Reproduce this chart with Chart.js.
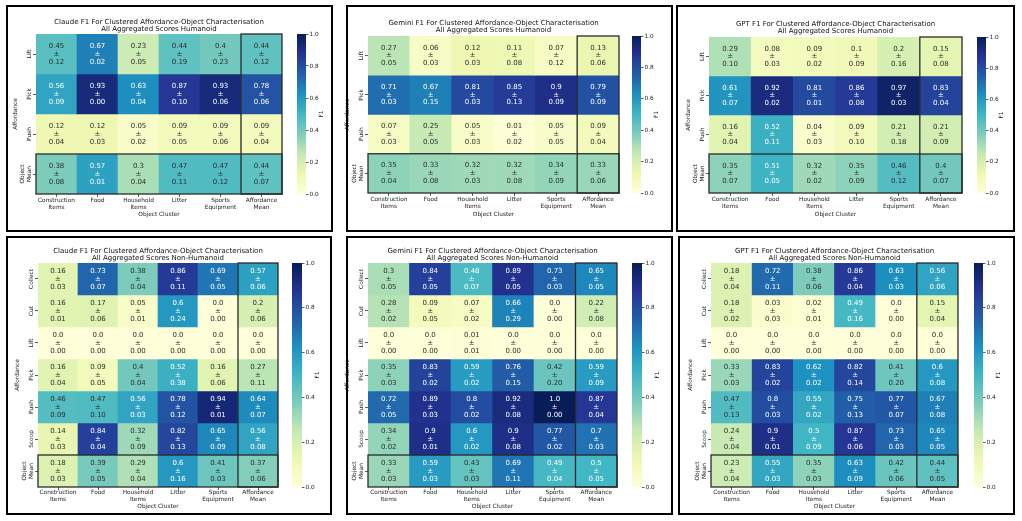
<!DOCTYPE html>
<html>
<head>
<meta charset="utf-8">
<title>F1 For Clustered Affordance-Object Characterisation</title>
<script src="https://cdn.jsdelivr.net/npm/chart.js@4.4.1/dist/chart.umd.min.js"></script>
<style>
  html, body { margin: 0; padding: 0; background: #fff; }
  #page { position: relative; width: 1022px; height: 521px; overflow: hidden; }
  #page canvas { position: absolute; }
  .frame { position: absolute; border: 2px solid #000; box-sizing: border-box; pointer-events: none; z-index: 2; }
</style>
</head>
<body>
<div id="page"></div>
<script>
// axis categories
var clusters = [['Construction', 'Items'], ['Food'], ['Household', 'Items'], ['Litter'], ['Sports', 'Equipment'], ['Affordance', 'Mean']];
var humanoidRows = [['Lift'], ['Pick'], ['Push'], ['Object', 'Mean']];
var nonHumanoidRows = [['Collect'], ['Cut'], ['Lift'], ['Pick'], ['Push'], ['Scoop'], ['Object', 'Mean']];
var cbTicks = [0, 0.2, 0.4, 0.6, 0.8, 1.0];

// Humanoid (rows: Lift, Pick, Push, Object Mean)
var claudeHumMean = [
    [0.45, 0.67, 0.23, 0.44, 0.4, 0.44],
    [0.56, 0.93, 0.63, 0.87, 0.93, 0.78],
    [0.12, 0.12, 0.05, 0.09, 0.09, 0.09],
    [0.38, 0.57, 0.3, 0.47, 0.47, 0.44]
];
var claudeHumStd = [
    [0.12, 0.02, 0.05, 0.19, 0.23, 0.12],
    [0.09, 0.00, 0.04, 0.10, 0.06, 0.06],
    [0.04, 0.03, 0.02, 0.05, 0.06, 0.04],
    [0.08, 0.01, 0.04, 0.11, 0.12, 0.07]
];
var geminiHumMean = [
    [0.27, 0.06, 0.12, 0.11, 0.07, 0.13],
    [0.71, 0.67, 0.81, 0.85, 0.9, 0.79],
    [0.07, 0.25, 0.05, 0.01, 0.05, 0.09],
    [0.35, 0.33, 0.32, 0.32, 0.34, 0.33]
];
var geminiHumStd = [
    [0.05, 0.03, 0.03, 0.08, 0.12, 0.06],
    [0.03, 0.15, 0.03, 0.13, 0.09, 0.09],
    [0.03, 0.05, 0.03, 0.02, 0.05, 0.04],
    [0.04, 0.08, 0.03, 0.08, 0.09, 0.06]
];
var gptHumMean = [
    [0.29, 0.08, 0.09, 0.1, 0.2, 0.15],
    [0.61, 0.92, 0.81, 0.86, 0.97, 0.83],
    [0.16, 0.52, 0.04, 0.09, 0.21, 0.21],
    [0.35, 0.51, 0.32, 0.35, 0.46, 0.4]
];
var gptHumStd = [
    [0.10, 0.03, 0.02, 0.09, 0.16, 0.08],
    [0.07, 0.02, 0.01, 0.08, 0.03, 0.04],
    [0.04, 0.11, 0.03, 0.10, 0.18, 0.09],
    [0.07, 0.05, 0.02, 0.09, 0.12, 0.07]
];

// Non-humanoid (rows: Collect, Cut, Lift, Pick, Push, Scoop, Object Mean)
var claudeNonMean = [
    [0.16, 0.73, 0.38, 0.86, 0.69, 0.57],
    [0.16, 0.17, 0.05, 0.6, 0.0, 0.2],
    [0.0, 0.0, 0.0, 0.0, 0.0, 0.0],
    [0.16, 0.09, 0.4, 0.52, 0.16, 0.27],
    [0.46, 0.47, 0.56, 0.78, 0.94, 0.64],
    [0.14, 0.84, 0.32, 0.82, 0.65, 0.56],
    [0.18, 0.39, 0.29, 0.6, 0.41, 0.37]
];
var claudeNonStd = [
    [0.03, 0.07, 0.04, 0.11, 0.05, 0.06],
    [0.01, 0.06, 0.01, 0.24, 0.00, 0.06],
    [0.00, 0.00, 0.00, 0.00, 0.00, 0.00],
    [0.04, 0.05, 0.04, 0.38, 0.06, 0.11],
    [0.09, 0.10, 0.03, 0.12, 0.01, 0.07],
    [0.03, 0.04, 0.09, 0.13, 0.09, 0.08],
    [0.03, 0.05, 0.04, 0.16, 0.03, 0.06]
];
var geminiNonMean = [
    [0.3, 0.84, 0.48, 0.89, 0.73, 0.65],
    [0.28, 0.09, 0.07, 0.66, 0.0, 0.22],
    [0.0, 0.0, 0.01, 0.0, 0.0, 0.0],
    [0.35, 0.83, 0.59, 0.76, 0.42, 0.59],
    [0.72, 0.89, 0.8, 0.92, 1.0, 0.87],
    [0.34, 0.9, 0.6, 0.9, 0.77, 0.7],
    [0.33, 0.59, 0.43, 0.69, 0.49, 0.5]
];
var geminiNonStd = [
    [0.05, 0.05, 0.07, 0.05, 0.03, 0.05],
    [0.02, 0.05, 0.02, 0.29, 0.00, 0.08],
    [0.00, 0.00, 0.01, 0.00, 0.00, 0.00],
    [0.03, 0.02, 0.02, 0.15, 0.20, 0.09],
    [0.05, 0.03, 0.02, 0.08, 0.00, 0.04],
    [0.02, 0.01, 0.02, 0.08, 0.02, 0.03],
    [0.03, 0.03, 0.03, 0.11, 0.04, 0.05]
];
var gptNonMean = [
    [0.18, 0.72, 0.38, 0.86, 0.63, 0.56],
    [0.18, 0.03, 0.02, 0.49, 0.0, 0.15],
    [0.0, 0.0, 0.0, 0.0, 0.0, 0.0],
    [0.33, 0.83, 0.62, 0.82, 0.41, 0.6],
    [0.47, 0.8, 0.55, 0.75, 0.77, 0.67],
    [0.24, 0.9, 0.5, 0.87, 0.73, 0.65],
    [0.23, 0.55, 0.35, 0.63, 0.42, 0.44]
];
var gptNonStd = [
    [0.04, 0.11, 0.06, 0.04, 0.03, 0.06],
    [0.02, 0.03, 0.01, 0.16, 0.00, 0.04],
    [0.00, 0.00, 0.00, 0.00, 0.00, 0.00],
    [0.03, 0.02, 0.02, 0.14, 0.20, 0.08],
    [0.13, 0.03, 0.02, 0.13, 0.07, 0.08],
    [0.04, 0.01, 0.09, 0.06, 0.03, 0.05],
    [0.04, 0.03, 0.03, 0.09, 0.06, 0.05]
];

var FAMILY = '"DejaVu Sans", sans-serif';
var smallFont = { family: FAMILY, size: 5.8, lineHeight: 1.2 };
var ylgnbu = ['#ffffd9', '#edf8b1', '#c7e9b4', '#7fcdbb', '#41b6c4', '#1d91c0', '#225ea8', '#253494', '#081d58'];

function hexToRgb(h) {
    return [parseInt(h.substr(1, 2), 16), parseInt(h.substr(3, 2), 16), parseInt(h.substr(5, 2), 16)];
}

function cmap(v) {
    v = Math.max(0, Math.min(1, v));
    var p = v * 8, i = Math.min(7, Math.floor(p)), f = p - i;
    var a = hexToRgb(ylgnbu[i]), b = hexToRgb(ylgnbu[i + 1]);
    return [0, 1, 2].map(function (k) { return Math.round(a[k] + (b[k] - a[k]) * f); });
}

function rgbStr(c) { return 'rgb(' + c.join(',') + ')'; }

// same rule seaborn uses to pick annotation colour
function textColor(c) {
    var lin = c.map(function (x) {
        x /= 255;
        return x <= 0.03928 ? x / 12.92 : Math.pow((x + 0.055) / 1.055, 2.4);
    });
    var lum = 0.2126 * lin[0] + 0.7152 * lin[1] + 0.0722 * lin[2];
    return lum > 0.408 ? '#2e2e2e' : '#ffffff';
}

function fmtMean(v) {
    var s = String(v);
    return s.indexOf('.') < 0 ? s + '.0' : s;
}

var page = document.getElementById('page');

function addCanvas(left, top, w, h) {
    var cv = document.createElement('canvas');
    cv.width = w;
    cv.height = h;
    cv.style.left = left + 'px';
    cv.style.top = top + 'px';
    page.appendChild(cv);
    return cv;
}

function addFrame(b) {
    var d = document.createElement('div');
    d.className = 'frame';
    d.style.left = b[0] + 'px';
    d.style.top = b[1] + 'px';
    d.style.width = (b[2] - b[0]) + 'px';
    d.style.height = (b[3] - b[1]) + 'px';
    page.appendChild(d);
}

// boxes round the "Affordance Mean" column and the "Object Mean" row
var meanBoxes = {
    id: 'meanBoxes',
    afterDatasetsDraw: function (chart) {
        var a = chart.chartArea, ctx = chart.ctx, ys = chart.scales.y;
        var meta = chart.getDatasetMeta(0);
        var last = meta.data[meta.data.length - 1];
        var n = chart.data.datasets.length;
        var y0 = ys.getPixelForValue(n - 1), y1 = ys.getPixelForValue(n);
        ctx.save();
        ctx.strokeStyle = '#2a2a2a';
        ctx.lineWidth = 1.3;
        ctx.strokeRect(last.x - last.width / 2, a.top, last.width, a.bottom - a.top);
        ctx.strokeRect(a.left, y0, a.right - a.left, y1 - y0);
        ctx.restore();
    }
};

var cellText = {
    id: 'cellText',
    afterDatasetsDraw: function (chart) {
        var ctx = chart.ctx;
        ctx.save();
        ctx.font = '7px ' + FAMILY;
        ctx.textAlign = 'center';
        ctx.textBaseline = 'middle';
        chart.data.datasets.forEach(function (ds, r) {
            chart.getDatasetMeta(r).data.forEach(function (bar, j) {
                var cy = (bar.y + bar.base) / 2;
                ctx.fillStyle = textColor(cmap(ds.means[j]));
                ctx.fillText(fmtMean(ds.means[j]), bar.x, cy - 7.8);
                ctx.fillText('±', bar.x, cy);
                ctx.fillText(ds.stds[j].toFixed(2), bar.x, cy + 7.8);
            });
        });
        ctx.restore();
    }
};

// rotated row labels, placed at the y scale's ticks
var yLabels = {
    id: 'yLabels',
    afterDraw: function (chart) {
        var ys = chart.scales.y, ctx = chart.ctx;
        ctx.save();
        ctx.font = '5.8px ' + FAMILY;
        ctx.fillStyle = '#222';
        ctx.textAlign = 'center';
        ctx.textBaseline = 'middle';
        ys.ticks.forEach(function (t, i) {
            var lines = chart.data.datasets[i].rowLabel;
            var y = ys.getPixelForValue(t.value);
            lines.forEach(function (line, k) {
                var x = ys.right - 7 - (lines.length - 1 - k) * 6.5;
                ctx.save();
                ctx.translate(x, y);
                ctx.rotate(-Math.PI / 2);
                ctx.fillText(line, 0, 0);
                ctx.restore();
            });
        });
        ctx.restore();
    }
};

var f1Label = {
    id: 'f1Label',
    afterDraw: function (chart) {
        var a = chart.chartArea, ctx = chart.ctx;
        ctx.save();
        ctx.font = '5.8px ' + FAMILY;
        ctx.fillStyle = '#222';
        ctx.textAlign = 'center';
        ctx.textBaseline = 'middle';
        ctx.translate(a.right + 15.5, (a.top + a.bottom) / 2);
        ctx.rotate(-Math.PI / 2);
        ctx.fillText('F1', 0, 0);
        ctx.restore();
    }
};

function makeHeatmap(p) {
    var L = p.cells[0], T = p.cells[1], R = p.cells[2], B = p.cells[3];
    var titleH = 3 + 14 + p.tb;
    var left = L - 26;
    var top = Math.floor(T - titleH);
    var h = Math.ceil(B + p.xh + 1 - top);
    var cv = addCanvas(left, top, R + 3 - left, h);

    var datasets = p.rows.map(function (row, r) {
        return {
            label: row.join(' '),
            rowLabel: row,
            means: p.mean[r],
            stds: p.std[r],
            data: clusters.map(function () { return [r, r + 1]; }),
            backgroundColor: p.mean[r].map(function (v) { return rgbStr(cmap(v)); }),
            borderWidth: 0,
            grouped: false,
            barPercentage: 1,
            categoryPercentage: 1
        };
    });

    new Chart(cv, {
        type: 'bar',
        data: { labels: clusters, datasets: datasets },
        options: {
            responsive: false,
            animation: false,
            events: [],
            layout: { padding: { left: 2, right: 3, top: T - titleH - top, bottom: h - (B - top) - p.xh } },
            scales: {
                x: {
                    ticks: { font: smallFont, color: '#222', padding: p.xpad, maxRotation: 0, autoSkip: false },
                    grid: { offset: false, drawOnChartArea: false, tickLength: 3, color: '#333', lineWidth: 0.8 },
                    border: { display: false },
                    title: { display: true, text: 'Object Cluster', font: smallFont, color: '#222', padding: 0 },
                    afterFit: function (s) { s.height = p.xh; }
                },
                y: {
                    min: 0,
                    max: p.rows.length,
                    reverse: true,
                    afterBuildTicks: function (s) {
                        s.ticks = p.rows.map(function (_, i) { return { value: i + 0.5 }; });
                    },
                    ticks: { display: false },
                    grid: { drawOnChartArea: false, tickLength: 3, color: '#333', lineWidth: 0.8 },
                    border: { display: false },
                    title: { display: true, text: 'Affordance', font: smallFont, color: '#222', padding: 0 },
                    afterFit: function (s) { s.width = 24; }
                }
            },
            plugins: {
                legend: { display: false },
                tooltip: { enabled: false },
                title: {
                    display: true,
                    fullSize: false,
                    text: [p.title, p.sub],
                    font: { family: FAMILY, size: 7, weight: 'normal', lineHeight: 1 },
                    color: '#111',
                    padding: { top: 3, bottom: p.tb }
                }
            }
        },
        plugins: [meanBoxes, cellText, yLabels]
    });
}

function makeColorbar(p) {
    var T = p.cells[1], B = p.cells[3], x0 = p.cb[0], x1 = p.cb[1];
    var cv = addCanvas(x0, T - 5, (x1 - x0) + 22, B - T + 10);
    new Chart(cv, {
        type: 'bar',
        data: {
            labels: ['F1'],
            datasets: [{
                data: [[0, 1]],
                backgroundColor: function (ctx) {
                    var a = ctx.chart.chartArea;
                    if (!a) return ylgnbu[4];
                    var g = ctx.chart.ctx.createLinearGradient(0, a.bottom, 0, a.top);
                    ylgnbu.forEach(function (c, i) { g.addColorStop(i / 8, c); });
                    return g;
                },
                borderWidth: 0,
                barPercentage: 1,
                categoryPercentage: 1
            }]
        },
        options: {
            responsive: false,
            animation: false,
            events: [],
            layout: { padding: { left: 0, right: 8, top: 5, bottom: 5 } },
            scales: {
                x: { display: false },
                y: {
                    position: 'right',
                    min: 0,
                    max: 1,
                    afterBuildTicks: function (s) {
                        s.ticks = cbTicks.map(function (v) { return { value: v }; });
                    },
                    ticks: {
                        font: smallFont,
                        color: '#222',
                        padding: 1,
                        callback: function (v) { return v.toFixed(1); }
                    },
                    grid: { drawOnChartArea: false, tickLength: 2.5, color: '#333', lineWidth: 0.8 },
                    border: { display: false },
                    afterFit: function (s) { s.width = 14; }
                }
            },
            plugins: { legend: { display: false }, tooltip: { enabled: false } }
        },
        plugins: [f1Label]
    });
}

var panels = [
    { title: 'Claude F1 For Clustered Affordance-Object Characterisation', sub: 'All Aggregated Scores Humanoid',
      rows: humanoidRows, mean: claudeHumMean, std: claudeHumStd,
      frame: [6, 5, 333, 232], cells: [36, 34, 282, 194], cb: [297, 306], tb: 1, xpad: 0.2, xh: 24.2 },
    { title: 'Gemini F1 For Clustered Affordance-Object Characterisation', sub: 'All Aggregated Scores Humanoid',
      rows: humanoidRows, mean: geminiHumMean, std: geminiHumStd,
      frame: [346, 5, 673, 232], cells: [368, 36, 619, 193], cb: [632, 641], tb: 2.5, xpad: 0.2, xh: 24.5 },
    { title: 'GPT F1 For Clustered Affordance-Object Characterisation', sub: 'All Aggregated Scores Humanoid',
      rows: humanoidRows, mean: gptHumMean, std: gptHumStd,
      frame: [676, 5, 1015, 232], cells: [709, 37, 962, 193], cb: [977, 986], tb: 2.8, xpad: 0.2, xh: 24.5 },
    { title: 'Claude F1 For Clustered Affordance-Object Characterisation', sub: 'All Aggregated Scores Non-Humanoid',
      rows: nonHumanoidRows, mean: claudeNonMean, std: claudeNonStd,
      frame: [6, 236, 332, 515], cells: [38, 263, 278, 487], cb: [292, 302], tb: 1.8, xpad: -1.1, xh: 22.9 },
    { title: 'Gemini F1 For Clustered Affordance-Object Characterisation', sub: 'All Aggregated Scores Non-Humanoid',
      rows: nonHumanoidRows, mean: geminiNonMean, std: geminiNonStd,
      frame: [346, 236, 673, 515], cells: [368, 263, 617, 487], cb: [632, 642], tb: 1.8, xpad: -1.1, xh: 22.9 },
    { title: 'GPT F1 For Clustered Affordance-Object Characterisation', sub: 'All Aggregated Scores Non-Humanoid',
      rows: nonHumanoidRows, mean: gptNonMean, std: gptNonStd,
      frame: [678, 236, 1015, 515], cells: [711, 263, 958, 487], cb: [974, 983], tb: 1.8, xpad: -1.1, xh: 22.9 }
];

panels.forEach(function (p) {
    makeHeatmap(p);
    makeColorbar(p);
    addFrame(p.frame);
});
</script>
</body>
</html>
